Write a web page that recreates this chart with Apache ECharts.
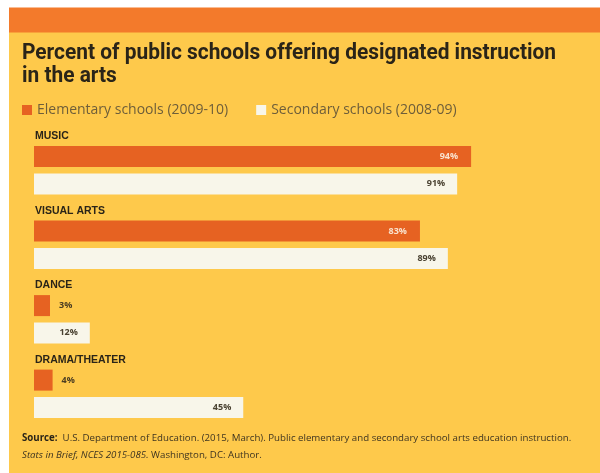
<!DOCTYPE html>
<html>
<head>
<meta charset="utf-8">
<script src="https://cdn.jsdelivr.net/npm/echarts@6/dist/echarts.min.js"></script>
<style>
  html, body { margin: 0; padding: 0; background: #ffffff; }
  #chart { width: 600px; height: 473px; }
</style>
</head>
<body>
<div id="chart"></div>
<script>
// ---- Data ----
const categories = ['MUSIC', 'VISUAL ARTS', 'DANCE', 'DRAMA/THEATER'];
const elementary = [94, 83, 3, 4];
const secondary = [91, 89, 12, 45];
const seriesNames = ['Elementary schools (2009-10)', 'Secondary schools (2008-09)'];
const titleLines = ['Percent of public schools offering designated instruction', 'in the arts'];
const sourceLine1 = 'U.S. Department of Education. (2015, March). Public elementary and secondary school arts education instruction.';
const sourceLine2a = 'Stats in Brief, NCES 2015-085.';
const sourceLine2b = 'Washington, DC: Author.';

// ---- Styles ----
const ORANGE_BAND = '#F37A2B';
const YELLOW = '#FEC94B';
const ELEM = '#E66222';
const SEC = '#F8F6EA';
const DARK = '#2A2418';
const TITLE_FONT_SIZE = 22.5;
const TITLE_FONT = 'bold ' + TITLE_FONT_SIZE + 'px Roboto, "Liberation Sans", sans-serif';
const TITLE_TARGET_WIDTH = 534;

// condense the title horizontally to match the condensed typeface of the original
const measureCtx = document.createElement('canvas').getContext('2d');
measureCtx.font = TITLE_FONT;
const titleScaleX = Math.min(1, TITLE_TARGET_WIDTH / measureCtx.measureText(titleLines[0]).width);

function buildData(values, insideColor, insideDistance) {
  return values.map(v => {
    if (v < 10) {
      return { value: v, label: { position: 'right', distance: 9, color: '#4A3C22' } };
    }
    return { value: v, label: { position: 'insideRight', distance: insideDistance, color: insideColor } };
  });
}

const chart = echarts.init(document.getElementById('chart'), null, { renderer: 'canvas' });

const option = {
  backgroundColor: '#ffffff',
  animation: false,
  graphic: [
    { type: 'rect', z: -10, shape: { x: 9, y: 32, width: 591, height: 441 }, style: { fill: YELLOW } },
    { type: 'rect', z: -10, shape: { x: 9, y: 7.5, width: 591, height: 25 }, style: { fill: ORANGE_BAND } },
    {
      type: 'text',
      x: 22,
      y: 42,
      scaleX: titleScaleX,
      style: {
        text: titleLines.join('\n'),
        font: TITLE_FONT,
        lineHeight: 23,
        fill: DARK,
        align: 'left',
        verticalAlign: 'top'
      }
    }
  ],
  title: [
    {
      text: '{b|Source:}  ' + sourceLine1 + '\n{i|' + sourceLine2a + '} ' + sourceLine2b,
      left: 22,
      top: 430,
      padding: 0,
      textStyle: {
        fontFamily: '"Open Sans", sans-serif',
        fontWeight: 'normal',
        fontSize: 9.7,
        lineHeight: 17,
        color: '#3E3420',
        rich: {
          b: { fontFamily: '"Open Sans", sans-serif', fontWeight: 'bold', fontSize: 9.7, color: '#2A2418', lineHeight: 17 },
          i: { fontFamily: '"Open Sans", sans-serif', fontWeight: 'normal', fontStyle: 'italic', fontSize: 9.7, color: '#3E3420', lineHeight: 17 }
        }
      }
    }
  ],
  legend: {
    left: 22,
    top: 103,
    padding: 0,
    itemWidth: 10,
    itemHeight: 10,
    itemGap: 28,
    icon: 'rect',
    selectedMode: false,
    textStyle: {
      fontFamily: '"Open Sans", sans-serif',
      fontWeight: 'normal',
      fontSize: 14,
      color: '#6E5E3A',
      padding: [0, 0, 0, 0]
    },
    data: seriesNames
  },
  grid: {
    left: 34,
    right: 101,
    top: 133,
    height: 298
  },
  xAxis: {
    type: 'value',
    min: 0,
    max: 100,
    show: false
  },
  yAxis: {
    type: 'category',
    inverse: true,
    data: categories,
    axisLine: { show: false },
    axisTick: { show: false },
    axisLabel: {
      inside: true,
      interval: 0,
      showMinLabel: true,
      showMaxLabel: true,
      hideOverlap: false,
      margin: 1,
      align: 'left',
      verticalAlign: 'bottom',
      formatter: v => '{a|' + v + '}\n{s|}',
      rich: {
        a: {
          fontFamily: '"Liberation Sans", sans-serif',
          fontWeight: 'bold',
          fontSize: 10.5,
          lineHeight: 12,
          color: DARK
        },
        s: { height: 28, lineHeight: 28 }
      }
    }
  },
  series: [
    {
      name: seriesNames[0],
      type: 'bar',
      barWidth: 21,
      barGap: '30%',
      barMinHeight: 16,
      itemStyle: { color: ELEM },
      label: {
        show: true,
        formatter: '{c}%',
        fontFamily: '"Open Sans", sans-serif',
        fontWeight: 'bold',
        fontSize: 9
      },
      data: buildData(elementary, '#F9E3CF', 13)
    },
    {
      name: seriesNames[1],
      type: 'bar',
      barWidth: 21,
      barMinHeight: 16,
      itemStyle: { color: SEC },
      label: {
        show: true,
        formatter: '{c}%',
        fontFamily: '"Open Sans", sans-serif',
        fontWeight: 'bold',
        fontSize: 9
      },
      data: buildData(secondary, '#4A4232', 12)
    }
  ]
};

chart.setOption(option);
</script>
</body>
</html>
